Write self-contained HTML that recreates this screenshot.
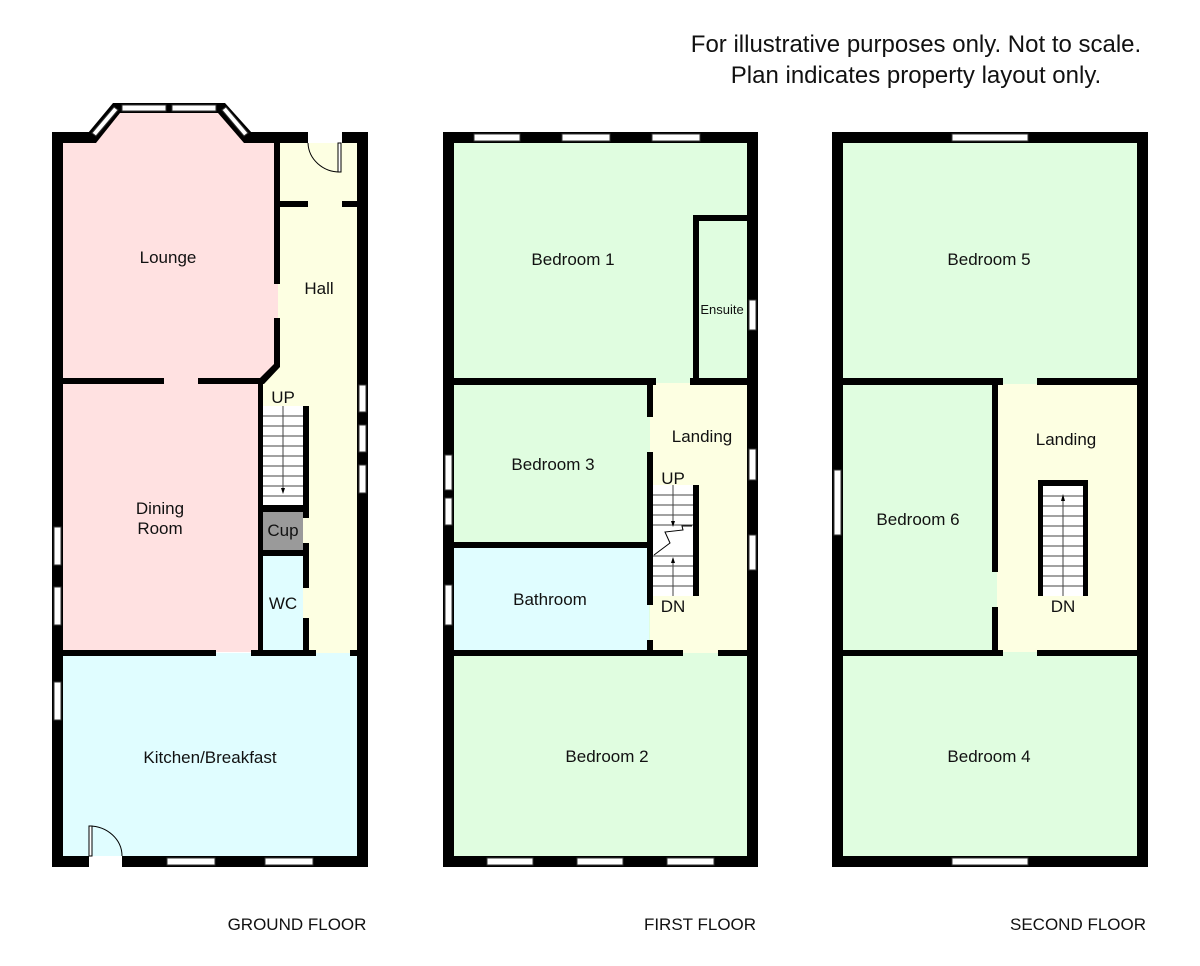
<!DOCTYPE html>
<html><head><meta charset="utf-8"><style>
html,body{margin:0;padding:0;background:#fff}
svg{display:block}
text{font-family:"Liberation Sans",Arial,sans-serif;fill:#111}
</style></head><body>
<svg width="1200" height="966" viewBox="0 0 1200 966" xmlns="http://www.w3.org/2000/svg">
<text x="916" y="52" font-size="24" text-anchor="middle">For illustrative purposes only. Not to scale.</text>
<text x="916" y="83" font-size="24" text-anchor="middle">Plan indicates property layout only.</text>

<!-- ============ GROUND FLOOR ============ -->
<polygon points="63,143 88,143 113,113 225,113 252,143 274,143 274,367 262,380 63,380" fill="#ffe1e1"/>
<rect x="274" y="284" width="4" height="34" fill="#ffe1e1"/>
<rect x="63" y="380" width="197" height="272" fill="#ffe1e1"/>
<rect x="278" y="143" width="80" height="510" fill="#fdffe2"/>
<polygon points="262,380 278,364 278,400 262,400" fill="#fdffe2"/>
<rect x="260" y="380" width="48" height="272" fill="#fdffe2"/>
<rect x="263" y="556" width="40" height="94" fill="#e0fdff"/>
<rect x="263" y="512" width="40" height="38" fill="#9a9a9a"/>
<rect x="63" y="653" width="294" height="203" fill="#e0fdff"/>
<g fill="#000">
<rect x="52" y="132" width="11" height="735"/>
<rect x="357" y="132" width="11" height="735"/>
<rect x="52" y="132" width="40" height="11"/>
<rect x="248" y="132" width="60" height="11"/>
<rect x="342" y="132" width="26" height="11"/>
<rect x="52" y="856" width="37" height="11"/>
<rect x="122" y="856" width="246" height="11"/>
<polygon points="88,133 113,103 120,103 120,113 96,143 88,143"/>
<polygon points="252,133 225,103 218,103 218,113 244,143 252,143"/>
<rect x="113" y="103" width="112" height="10"/>
<rect x="274" y="143" width="6" height="141"/>
<rect x="274" y="318" width="6" height="49"/>
<polygon points="274,364 280,367 264,384 258,380"/>
<rect x="280" y="201" width="28" height="6"/>
<rect x="342" y="201" width="16" height="6"/>
<rect x="63" y="378" width="101" height="6"/>
<rect x="198" y="378" width="66" height="6"/>
<rect x="258" y="380" width="5" height="276"/>
<rect x="303" y="406" width="6" height="112"/>
<rect x="303" y="543" width="6" height="45"/>
<rect x="303" y="618" width="6" height="38"/>
<rect x="263" y="505" width="40" height="7"/>
<rect x="263" y="550" width="40" height="6"/>
<rect x="63" y="650" width="153" height="6"/>
<rect x="251" y="650" width="65" height="6"/>
<rect x="350" y="650" width="7" height="6"/>
</g>
<g fill="#fff" stroke="#333" stroke-width="1">
<rect x="122" y="105" width="44" height="6"/>
<rect x="172" y="105" width="44" height="6"/>
<polygon points="92,133 114,107 118,110 96,136"/>
<polygon points="248,133 226,107 222,110 244,136"/>
<rect x="54" y="527" width="7" height="38"/>
<rect x="54" y="587" width="7" height="38"/>
<rect x="54" y="682" width="7" height="38"/>
<rect x="359" y="385" width="7" height="27"/>
<rect x="359" y="425" width="7" height="27"/>
<rect x="359" y="465" width="7" height="28"/>
<rect x="167" y="858" width="48" height="7"/>
<rect x="265" y="858" width="48" height="7"/>
</g>
<g fill="none" stroke="#000" stroke-width="1">
<path d="M340,143 L340,172 M308,143 A32,30 0 0 0 340,172"/>
<rect x="338" y="143" width="3" height="29" fill="#fff"/>
<path d="M89,856 L89,826 A33,30 0 0 1 122,856"/>
<rect x="89" y="826" width="3" height="30" fill="#fff"/>
</g>
<rect x="263" y="406" width="40" height="99" fill="#fff"/>
<g stroke="#444" stroke-width="1">
<line x1="263" y1="416" x2="303" y2="416"/><line x1="263" y1="426" x2="303" y2="426"/>
<line x1="263" y1="436" x2="303" y2="436"/><line x1="263" y1="446" x2="303" y2="446"/>
<line x1="263" y1="456" x2="303" y2="456"/><line x1="263" y1="466" x2="303" y2="466"/>
<line x1="263" y1="476" x2="303" y2="476"/><line x1="263" y1="486" x2="303" y2="486"/>
<line x1="263" y1="496" x2="303" y2="496"/>
<line x1="283" y1="406" x2="283" y2="492"/>
</g>
<polygon points="281,488 285,488 283,494" fill="#000"/>
<g font-size="17" text-anchor="middle">
<text x="168" y="263">Lounge</text>
<text x="319" y="294">Hall</text>
<text x="283" y="403">UP</text>
<text x="160" y="514">Dining</text>
<text x="160" y="534">Room</text>
<text x="283" y="536">Cup</text>
<text x="283" y="609">WC</text>
<text x="210" y="763">Kitchen/Breakfast</text>
</g>
<text x="297" y="930" font-size="17" text-anchor="middle">GROUND FLOOR</text>

<!-- ============ FIRST FLOOR ============ -->
<rect x="454" y="143" width="293" height="713" fill="#e0fde0"/>
<rect x="650" y="383" width="97" height="270" fill="#fdffe2"/>
<rect x="454" y="548" width="195" height="104" fill="#e0fdff"/>
<g fill="#000">
<rect x="443" y="132" width="11" height="735"/>
<rect x="747" y="132" width="11" height="735"/>
<rect x="443" y="132" width="315" height="11"/>
<rect x="443" y="856" width="315" height="11"/>
<rect x="693" y="215" width="6" height="170"/>
<rect x="693" y="215" width="54" height="6"/>
<rect x="454" y="378" width="202" height="7"/>
<rect x="690" y="378" width="57" height="7"/>
<rect x="647" y="378" width="6" height="39"/>
<rect x="647" y="452" width="6" height="153"/>
<rect x="647" y="640" width="6" height="16"/>
<rect x="454" y="542" width="193" height="6"/>
<rect x="454" y="650" width="229" height="6"/>
<rect x="718" y="650" width="29" height="6"/>
<rect x="693" y="485" width="6" height="111"/>
</g>
<g fill="#fff" stroke="#333" stroke-width="1">
<rect x="474" y="134" width="46" height="7"/>
<rect x="562" y="134" width="48" height="7"/>
<rect x="652" y="134" width="48" height="7"/>
<rect x="487" y="858" width="46" height="7"/>
<rect x="577" y="858" width="46" height="7"/>
<rect x="667" y="858" width="47" height="7"/>
<rect x="445" y="455" width="7" height="35"/>
<rect x="445" y="498" width="7" height="27"/>
<rect x="445" y="585" width="7" height="40"/>
<rect x="749" y="300" width="7" height="30"/>
<rect x="749" y="449" width="7" height="31"/>
<rect x="749" y="535" width="7" height="35"/>
</g>
<rect x="653" y="485" width="40" height="111" fill="#fff"/>
<g stroke="#444" stroke-width="1" fill="none">
<line x1="653" y1="495" x2="693" y2="495"/><line x1="653" y1="505" x2="693" y2="505"/>
<line x1="653" y1="515" x2="693" y2="515"/><line x1="653" y1="525" x2="693" y2="525"/>
<line x1="653" y1="556" x2="693" y2="556"/><line x1="653" y1="566" x2="693" y2="566"/>
<line x1="653" y1="576" x2="693" y2="576"/><line x1="653" y1="586" x2="693" y2="586"/>
<line x1="673" y1="485" x2="673" y2="523"/><line x1="673" y1="560" x2="673" y2="596"/>
<polyline points="654,555 670,543 665,532 683,530 682,526 692,526" stroke="#000"/>
</g>
<polygon points="671,521 675,521 673,527" fill="#000"/>
<polygon points="671,563 675,563 673,557" fill="#000"/>
<g font-size="17" text-anchor="middle">
<text x="573" y="265">Bedroom 1</text>
<text x="722" y="314" font-size="13">Ensuite</text>
<text x="702" y="442">Landing</text>
<text x="553" y="470">Bedroom 3</text>
<text x="673" y="484">UP</text>
<text x="550" y="605">Bathroom</text>
<text x="673" y="612">DN</text>
<text x="607" y="762">Bedroom 2</text>
</g>
<text x="700" y="930" font-size="17" text-anchor="middle">FIRST FLOOR</text>

<!-- ============ SECOND FLOOR ============ -->
<rect x="843" y="143" width="294" height="713" fill="#e0fde0"/>
<rect x="997" y="384" width="140" height="268" fill="#fdffe2"/>
<g fill="#000">
<rect x="832" y="132" width="11" height="735"/>
<rect x="1137" y="132" width="11" height="735"/>
<rect x="832" y="132" width="316" height="11"/>
<rect x="832" y="856" width="316" height="11"/>
<rect x="843" y="378" width="160" height="7"/>
<rect x="1037" y="378" width="100" height="7"/>
<rect x="992" y="378" width="6" height="194"/>
<rect x="992" y="607" width="6" height="49"/>
<rect x="843" y="650" width="160" height="6"/>
<rect x="1037" y="650" width="100" height="6"/>
<rect x="1038" y="480" width="50" height="116"/>
</g>
<rect x="1043" y="486" width="40" height="110" fill="#fff"/>
<g stroke="#444" stroke-width="1">
<line x1="1043" y1="496" x2="1083" y2="496"/><line x1="1043" y1="506" x2="1083" y2="506"/>
<line x1="1043" y1="516" x2="1083" y2="516"/><line x1="1043" y1="526" x2="1083" y2="526"/>
<line x1="1043" y1="536" x2="1083" y2="536"/><line x1="1043" y1="546" x2="1083" y2="546"/>
<line x1="1043" y1="556" x2="1083" y2="556"/><line x1="1043" y1="566" x2="1083" y2="566"/>
<line x1="1043" y1="576" x2="1083" y2="576"/><line x1="1043" y1="586" x2="1083" y2="586"/>
<line x1="1063" y1="496" x2="1063" y2="596"/>
</g>
<polygon points="1061,501 1065,501 1063,494" fill="#000"/>
<g fill="#fff" stroke="#333" stroke-width="1">
<rect x="952" y="134" width="76" height="7"/>
<rect x="952" y="858" width="76" height="7"/>
<rect x="834" y="470" width="7" height="65"/>
</g>
<g font-size="17" text-anchor="middle">
<text x="989" y="265">Bedroom 5</text>
<text x="1066" y="445">Landing</text>
<text x="918" y="525">Bedroom 6</text>
<text x="1063" y="612">DN</text>
<text x="989" y="762">Bedroom 4</text>
</g>
<text x="1078" y="930" font-size="17" text-anchor="middle">SECOND FLOOR</text>
</svg>
</body></html>
